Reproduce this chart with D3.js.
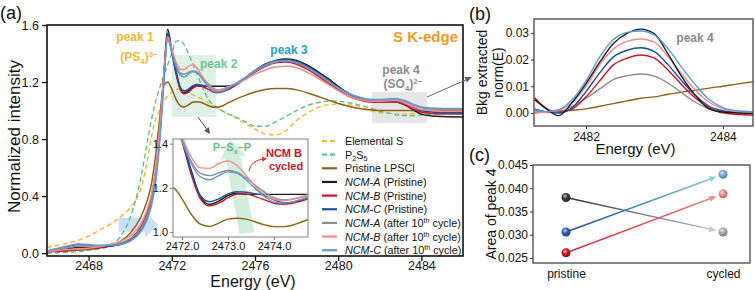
<!DOCTYPE html>
<html>
<head>
<meta charset="utf-8">
<script src="https://cdn.jsdelivr.net/npm/d3@7"></script>
<style>
  body { margin: 0; background: #fff; }
  svg { font-family: "Liberation Sans", Arial, sans-serif; }
</style>
</head>
<body>
<div id="chart"></div>
<script>
// ---------- data: panel (a), normalized S K-edge XANES ----------
const energy = [2466, 2467, 2467.5, 2468, 2468.5, 2469, 2469.5, 2470,
  2470.5, 2470.8, 2471.0, 2471.2, 2471.4, 2471.6, 2471.8,
  2472.0, 2472.2, 2472.4, 2472.6, 2472.8, 2473.0, 2473.2, 2473.4, 2473.6, 2473.8, 2474.0, 2474.2, 2474.4, 2474.6,
  2475, 2475.5, 2476, 2476.5, 2477, 2477.5, 2478, 2478.5, 2479, 2479.5, 2480, 2480.5, 2481, 2481.5, 2482, 2482.5,
  2482.8, 2483.2, 2483.6, 2484, 2484.5, 2485, 2486];

const elementalS = [0.04, 0.07, 0.09, 0.12, 0.16, 0.20, 0.25, 0.32,
  0.45, 0.63, 0.80, 0.93, 1.00, 1.06, 1.10,
  1.13, 1.15, 1.15, 1.14, 1.125, 1.11, 1.10, 1.085, 1.07, 1.05, 1.03, 1.015, 1.0, 0.985,
  0.955, 0.91, 0.87, 0.835, 0.83, 0.86, 0.93, 0.98, 1.02, 1.04, 1.045, 1.04, 1.03, 1.0, 0.985, 0.98,
  0.975, 0.975, 0.98, 0.985, 0.99, 0.99, 0.99];

const p2s5 = [0.0, 0.005, 0.01, 0.02, 0.03, 0.05, 0.11, 0.25,
  0.52, 0.76, 0.92, 1.05, 1.15, 1.24, 1.32,
  1.40, 1.485, 1.49, 1.46, 1.40, 1.33, 1.26, 1.19, 1.12, 1.07, 1.04, 1.02, 1.0, 0.985,
  0.96, 0.925, 0.89, 0.89, 0.92, 0.96, 1.0, 1.035, 1.055, 1.065, 1.065, 1.055, 1.04, 1.02, 0.995, 0.98,
  0.97, 0.965, 0.965, 0.97, 0.975, 0.98, 0.98];

const pristineLPSCl = [0.01, 0.015, 0.02, 0.025, 0.035, 0.05, 0.08, 0.14,
  0.25, 0.36, 0.47, 0.66, 0.92, 1.17, 1.20,
  1.15, 1.08, 1.035, 1.025, 1.04, 1.058, 1.062, 1.058, 1.045, 1.032, 1.024, 1.024, 1.03, 1.045,
  1.075, 1.105, 1.13, 1.148, 1.155, 1.155, 1.145, 1.125, 1.10, 1.075, 1.05, 1.03, 1.015, 1.005, 1.0, 1.0,
  1.0, 1.0, 1.0, 1.0, 1.0, 1.0, 1.0];

const ncmAPristine = [0.01, 0.03, 0.04, 0.04, 0.04, 0.05, 0.06, 0.09,
  0.17, 0.27, 0.36, 0.52, 0.80, 1.20, 1.57,
  1.42, 1.28, 1.16, 1.125, 1.14, 1.165, 1.175, 1.17, 1.17, 1.17, 1.17, 1.17, 1.17, 1.17,
  1.18, 1.225, 1.28, 1.325, 1.352, 1.362, 1.352, 1.32, 1.275, 1.225, 1.17, 1.12, 1.085, 1.065, 1.06, 1.062,
  1.06, 1.04, 1.005, 0.975, 0.962, 0.958, 0.955];

const ncmBPristine = [0.01, 0.02, 0.03, 0.035, 0.04, 0.05, 0.065, 0.10,
  0.18, 0.28, 0.38, 0.55, 0.83, 1.22, 1.53,
  1.41, 1.26, 1.15, 1.118, 1.13, 1.155, 1.172, 1.172, 1.16, 1.145, 1.13, 1.125, 1.13, 1.14,
  1.17, 1.22, 1.27, 1.31, 1.335, 1.34, 1.325, 1.29, 1.245, 1.195, 1.145, 1.10, 1.075, 1.06, 1.058, 1.062,
  1.06, 1.04, 1.01, 0.99, 0.98, 0.975, 0.975];

const ncmCPristine = [0.015, 0.045, 0.06, 0.055, 0.05, 0.05, 0.06, 0.09,
  0.16, 0.25, 0.34, 0.50, 0.78, 1.18, 1.54,
  1.42, 1.27, 1.165, 1.137, 1.15, 1.172, 1.182, 1.18, 1.172, 1.165, 1.145, 1.132, 1.135, 1.145,
  1.175, 1.225, 1.28, 1.325, 1.35, 1.358, 1.345, 1.31, 1.265, 1.215, 1.16, 1.115, 1.085, 1.068, 1.065, 1.068,
  1.068, 1.055, 1.025, 1.0, 0.99, 0.985, 0.985];

const ncmACycled = [0.015, 0.04, 0.05, 0.05, 0.05, 0.055, 0.07, 0.10,
  0.17, 0.26, 0.35, 0.51, 0.79, 1.18, 1.51,
  1.42, 1.32, 1.265, 1.255, 1.268, 1.278, 1.27, 1.245, 1.21, 1.18, 1.155, 1.145, 1.148, 1.158,
  1.185, 1.23, 1.28, 1.32, 1.345, 1.35, 1.335, 1.30, 1.255, 1.205, 1.155, 1.115, 1.09, 1.075, 1.072, 1.076,
  1.076, 1.065, 1.04, 1.02, 1.01, 1.01, 1.01];

const ncmBCycled = [0.01, 0.025, 0.03, 0.035, 0.045, 0.06, 0.08, 0.12,
  0.20, 0.30, 0.40, 0.57, 0.85, 1.22, 1.52,
  1.43, 1.34, 1.29, 1.288, 1.31, 1.321, 1.30, 1.255, 1.205, 1.17, 1.148, 1.142, 1.148, 1.16,
  1.18, 1.215, 1.255, 1.285, 1.305, 1.31, 1.30, 1.27, 1.23, 1.185, 1.14, 1.10, 1.078, 1.065, 1.065, 1.07,
  1.07, 1.055, 1.03, 1.005, 1.0, 0.995, 0.995];

const ncmCCycled = [0.015, 0.05, 0.065, 0.06, 0.055, 0.055, 0.06, 0.085,
  0.15, 0.23, 0.32, 0.47, 0.75, 1.15, 1.50,
  1.41, 1.31, 1.25, 1.236, 1.255, 1.272, 1.265, 1.235, 1.195, 1.16, 1.135, 1.13, 1.135, 1.148,
  1.18, 1.225, 1.275, 1.315, 1.34, 1.348, 1.335, 1.305, 1.26, 1.21, 1.16, 1.12, 1.095, 1.08, 1.078, 1.082,
  1.082, 1.07, 1.045, 1.025, 1.018, 1.015, 1.015];

const xTicksA = [2468, 2472, 2476, 2480, 2484];
const yTicksA = [0.0, 0.4, 0.8, 1.2, 1.6];
const xTicksInset = [2472.0, 2473.0, 2474.0];
const yTicksInset = [1.0, 1.2, 1.4];

// ---------- data: panel (b), background-extracted peak 4 ----------
const energyB = [2481.25, 2481.4, 2481.6, 2481.8, 2482.0, 2482.2, 2482.4, 2482.6, 2482.8,
  2483.0, 2483.2, 2483.4, 2483.6, 2483.8, 2484.0, 2484.2, 2484.44];
const bkgLPSCl = [0.0, 0.0005, 0.0008, 0.001, 0.0015, 0.0025, 0.0035, 0.0045, 0.0055,
  0.006, 0.007, 0.0078, 0.0085, 0.0093, 0.010, 0.0108, 0.0117];
const bkgNcmAPristine = [0.005, 0.002, -0.001, 0.004, 0.011, 0.019, 0.026, 0.0298, 0.0314,
  0.0296, 0.022, 0.0135, 0.0065, 0.0015, 0.0003, 0.0, -0.0002];
const bkgNcmBPristine = [0.0057, 0.002, 0.0003, 0.0015, 0.006, 0.012, 0.018, 0.0205, 0.0217,
  0.0205, 0.016, 0.0105, 0.0055, 0.002, 0.0, -0.0005, -0.0008];
const bkgNcmCPristine = [0.0015, 0.0005, 0.0, 0.002, 0.008, 0.015, 0.021, 0.0235, 0.0244,
  0.023, 0.018, 0.012, 0.0065, 0.0025, 0.0008, 0.0002, 0.0];
const bkgNcmACycled = [0.0008, 0.0003, 0.0005, 0.0025, 0.0055, 0.009, 0.0125, 0.014, 0.0146,
  0.0138, 0.0112, 0.0075, 0.004, 0.0015, 0.0005, 0.0, 0.0];
const bkgNcmBCycled = [0.0, 0.0003, 0.001, 0.004, 0.010, 0.018, 0.024, 0.0268, 0.0277,
  0.0265, 0.021, 0.0145, 0.0085, 0.004, 0.0015, 0.0005, 0.0002];
const bkgNcmCCycled = [0.0012, 0.0005, 0.0012, 0.005, 0.012, 0.021, 0.0275, 0.0302, 0.0307,
  0.0292, 0.024, 0.017, 0.0105, 0.005, 0.002, 0.0008, 0.0004];
const xTicksB = [2482, 2484];
const yTicksB = [0.00, 0.01, 0.02, 0.03];

// ---------- data: panel (c), area of peak 4 ----------
const states = ["pristine", "cycled"];
const samples = ["NCM-A", "NCM-B", "NCM-C"];
const areaPristine = [0.0380, 0.0261, 0.0306];
const areaCycled = [0.0306, 0.0388, 0.0430];
const yTicksC = [0.025, 0.030, 0.035, 0.040, 0.045];

// ---------- styles ----------
const col = {
  s: "#f6b634", p2s5: "#5fc18d", lpscl: "#8a6418",
  aP: "#1c1c1c", bP: "#cc1427", cP: "#1d4f9e",
  aC: "#8e8e8e", bC: "#f28b8d", cC: "#5d9ad4"
};

const mainSeries = [
  { values: elementalS, color: col.s, dash: "5,3", label: ["Elemental S"] },
  { values: p2s5, color: col.p2s5, dash: "5,3", label: ["P", { t: "2", sub: 1 }, "S", { t: "5", sub: 1 }] },
  { values: pristineLPSCl, color: col.lpscl, label: ["Pristine LPSCl"] },
  { values: ncmAPristine, color: col.aP, label: [{ t: "NCM-A", it: 1 }, " (Pristine)"] },
  { values: ncmBPristine, color: col.bP, label: [{ t: "NCM-B", it: 1 }, " (Pristine)"] },
  { values: ncmCPristine, color: col.cP, label: [{ t: "NCM-C", it: 1 }, " (Pristine)"] },
  { values: ncmACycled, color: col.aC, label: [{ t: "NCM-A", it: 1 }, " (after 10", { t: "th", sup: 1 }, " cycle)"] },
  { values: ncmBCycled, color: col.bC, label: [{ t: "NCM-B", it: 1 }, " (after 10", { t: "th", sup: 1 }, " cycle)"] },
  { values: ncmCCycled, color: col.cC, label: [{ t: "NCM-C", it: 1 }, " (after 10", { t: "th", sup: 1 }, " cycle)"] }
];

const bSeries = [
  { values: bkgLPSCl, color: col.lpscl },
  { values: bkgNcmACycled, color: col.aC },
  { values: bkgNcmBPristine, color: col.bP },
  { values: bkgNcmCPristine, color: col.cP },
  { values: bkgNcmBCycled, color: col.bC },
  { values: bkgNcmAPristine, color: col.aP },
  { values: bkgNcmCCycled, color: col.cC }
];

// helper: text with italic / sub / sup parts
function rich(g, x, y, parts, attrs) {
  const t = g.append("text").attr("x", x).attr("y", y);
  Object.entries(attrs || {}).forEach(([k, v]) => t.attr(k, v));
  let shift = 0;
  parts.forEach(p => {
    if (typeof p === "string") p = { t: p };
    const want = p.sub ? 2.5 : p.sup ? -4 : 0;
    const ts = t.append("tspan").attr("dy", want - shift).text(p.t);
    shift = want;
    if (p.sub || p.sup) ts.attr("font-size", "0.66em");
    if (p.it) ts.attr("font-style", "italic");
  });
  return t;
}

function arrowHead(g, x1, y1, x2, y2, len, half, color) {
  const ang = Math.atan2(y2 - y1, x2 - x1);
  const bx = x2 - len * Math.cos(ang), by = y2 - len * Math.sin(ang);
  const nx = -Math.sin(ang) * half, ny = Math.cos(ang) * half;
  g.append("path")
    .attr("d", `M${x2},${y2}L${bx + nx},${by + ny}L${bx - nx},${by - ny}Z`)
    .attr("fill", color);
}

const svg = d3.select("#chart").append("svg").attr("width", 755).attr("height", 290);
const defs = svg.append("defs");

// ================= panel (a) =================
const a = { left: 47, top: 25, width: 416, height: 231 };
const xA = d3.scaleLinear().domain([2466, 2486]).range([0, a.width]);
const yA = d3.scaleLinear().domain([-0.02, 1.6]).range([a.height, 0]);
const gA = svg.append("g").attr("transform", `translate(${a.left},${a.top})`);

defs.append("clipPath").attr("id", "clipA")
  .append("rect").attr("width", a.width).attr("height", a.height);

// shaded highlight boxes
gA.append("rect")
  .attr("x", xA(2472.0)).attr("y", yA(1.39))
  .attr("width", xA(2474.12) - xA(2472.0)).attr("height", yA(0.955) - yA(1.39))
  .attr("fill", "#d3ecdb").attr("opacity", 0.75);
gA.append("rect")
  .attr("x", xA(2481.62)).attr("y", yA(1.13))
  .attr("width", xA(2484.27) - xA(2481.62)).attr("height", yA(0.912) - yA(1.13))
  .attr("fill", "#dcdcdc").attr("opacity", 0.7);

// blue block arrow
{
  const x0 = xA(2469.45), xm = xA(2470.7), x1 = xA(2471.35), yc = yA(0.2);
  gA.append("path")
    .attr("d", `M${x0},${yc - 7}L${xm},${yc - 7}L${xm},${yc - 13}L${x1},${yc}L${xm},${yc + 13}L${xm},${yc + 7}L${x0},${yc + 7}Z`)
    .attr("fill", "#c8dbf2").attr("opacity", 0.9);
}

const lineA = d3.line()
  .x((d, i) => xA(energy[i]))
  .y(d => yA(d))
  .curve(d3.curveMonotoneX);

const curvesA = gA.append("g").attr("clip-path", "url(#clipA)");
mainSeries.forEach(s => {
  curvesA.append("path")
    .datum(s.values)
    .attr("fill", "none")
    .attr("stroke", s.color)
    .attr("stroke-width", s.dash ? 1.4 : 1.5)
    .attr("stroke-dasharray", s.dash || null)
    .attr("d", lineA);
});

// axes
const axXA = gA.append("g").attr("transform", `translate(0,${a.height})`)
  .call(d3.axisBottom(xA).tickValues(xTicksA).tickFormat(d3.format("d")).tickSize(5).tickPadding(0));
const axYA = gA.append("g")
  .call(d3.axisLeft(yA).tickValues(yTicksA).tickFormat(d3.format(".1f")).tickSize(5).tickPadding(3));
[axXA, axYA].forEach(ax => {
  ax.selectAll("text").attr("font-size", 12.5).attr("fill", "#111").attr("font-family", "Liberation Sans, Arial, sans-serif");
  ax.selectAll("line").attr("stroke", "#111").attr("stroke-width", 1.3);
  ax.select(".domain").remove();
});
gA.append("rect").attr("width", a.width).attr("height", a.height)
  .attr("fill", "none").attr("stroke", "#111").attr("stroke-width", 1.6);

svg.append("text").attr("x", a.left + a.width / 2 - 2).attr("y", 287.2)
  .attr("text-anchor", "middle").attr("font-size", 16).attr("fill", "#111").text("Energy (eV)");
svg.append("text").attr("transform", `translate(20,${a.top + a.height / 2 - 4}) rotate(-90)`)
  .attr("text-anchor", "middle").attr("font-size", 17).attr("fill", "#111").text("Normalized intensity");
svg.append("text").attr("x", 0).attr("y", 19).attr("font-size", 18).attr("fill", "#111").text("(a)");

// annotations
rich(svg, 135, 41, ["peak 1"], { "font-size": 12, "font-weight": "bold", fill: "#f6b634", "text-anchor": "middle" });
rich(svg, 139, 61, ["(PS", { t: "4", sub: 1 }, ")", { t: "3−", sup: 1 }], { "font-size": 12, "font-weight": "bold", fill: "#f6b634", "text-anchor": "middle" });
rich(svg, 200, 68, ["peak 2"], { "font-size": 12, "font-weight": "bold", fill: "#6cc594" });
rich(svg, 289, 54, ["peak 3"], { "font-size": 12, "font-weight": "bold", fill: "#2a9cc6", "text-anchor": "middle" });
rich(svg, 458, 42, ["S K-edge"], { "font-size": 15, "font-weight": "bold", fill: "#f39a1e", "text-anchor": "end" });
rich(svg, 401, 74, ["peak 4"], { "font-size": 12, "font-weight": "bold", fill: "#8a8a8a", "text-anchor": "middle" });
rich(svg, 403, 88, ["(SO", { t: "4", sub: 1 }, ")", { t: "2−", sup: 1 }], { "font-size": 12, "font-weight": "bold", fill: "#8a8a8a", "text-anchor": "middle" });

// gray pointer arrows
svg.append("line").attr("x1", 198).attr("y1", 117).attr("x2", 208).attr("y2", 131)
  .attr("stroke", "#555").attr("stroke-width", 1);
arrowHead(svg, 198, 117, 210, 134, 6, 3, "#555");
svg.append("line").attr("x1", 427).attr("y1", 97).attr("x2", 468).attr("y2", 79)
  .attr("stroke", "#666").attr("stroke-width", 1);
arrowHead(svg, 427, 97, 472, 77, 7, 3, "#666");

// legend
const legend = svg.append("g").attr("transform", "translate(322,141)");
mainSeries.forEach((s, i) => {
  const gy = i * 13.65;
  legend.append("line").attr("x1", 0).attr("x2", 15).attr("y1", gy).attr("y2", gy)
    .attr("stroke", s.color).attr("stroke-width", 2.2)
    .attr("stroke-dasharray", s.dash ? "5,3" : null);
  rich(legend, 23, gy + 4, s.label, { "font-size": 10.8, fill: "#111" });
});

// ---------- inset ----------
const ins = { left: 173, top: 139, width: 135, height: 98 };
const xI = d3.scaleLinear().domain([2471.804, 2474.74]).range([0, ins.width]);
const yI = d3.scaleLinear().domain([0.977, 1.421]).range([ins.height, 0]);
const gI = svg.append("g").attr("transform", `translate(${ins.left},${ins.top})`);
defs.append("clipPath").attr("id", "clipI")
  .append("rect").attr("width", ins.width).attr("height", ins.height);
gI.append("rect").attr("width", ins.width).attr("height", ins.height).attr("fill", "#fff");

// green block arrow (P–Sx–P)
{
  const bx = xI(2473.41), by = yI(0.995), tx = xI(2473.04), ty = yI(1.418);
  const ang = Math.atan2(ty - by, tx - bx);
  const ux = Math.cos(ang), uy = Math.sin(ang), nx = -uy, ny = ux;
  const headLen = 18, bw = 7.5, hw = 13;
  const hx = tx - ux * headLen, hy = ty - uy * headLen;
  const pts = [
    [bx + nx * bw, by + ny * bw], [hx + nx * bw, hy + ny * bw], [hx + nx * hw, hy + ny * hw],
    [tx, ty], [hx - nx * hw, hy - ny * hw], [hx - nx * bw, hy - ny * bw], [bx - nx * bw, by - ny * bw]
  ];
  gI.append("path").attr("d", "M" + pts.map(p => p.join(",")).join("L") + "Z")
    .attr("fill", "#c9ebd4").attr("opacity", 0.85).attr("clip-path", "url(#clipI)");
}

const lineI = d3.line()
  .x((d, i) => xI(energy[i]))
  .y(d => yI(d))
  .curve(d3.curveMonotoneX);
const curvesI = gI.append("g").attr("clip-path", "url(#clipI)");
mainSeries.filter(s => !s.dash).forEach(s => {
  curvesI.append("path").datum(s.values)
    .attr("fill", "none").attr("stroke", s.color).attr("stroke-width", 1.4).attr("d", lineI);
});
const axXI = gI.append("g").attr("transform", `translate(0,${ins.height})`)
  .call(d3.axisBottom(xI).tickValues(xTicksInset).tickFormat(d3.format(".1f")).tickSize(3).tickPadding(2));
const axYI = gI.append("g")
  .call(d3.axisLeft(yI).tickValues(yTicksInset).tickFormat(d3.format(".1f")).tickSize(3).tickPadding(2));
[axXI, axYI].forEach(ax => {
  ax.selectAll("text").attr("font-size", 11).attr("fill", "#111").attr("font-family", "Liberation Sans, Arial, sans-serif");
  ax.selectAll("line").attr("stroke", "#777");
  ax.select(".domain").remove();
});
gI.append("rect").attr("width", ins.width).attr("height", ins.height)
  .attr("fill", "none").attr("stroke", "#8a8a8a").attr("stroke-width", 1.1);

rich(svg, 232, 151, ["P–S", { t: "x", sub: 1 }, "–P"], { "font-size": 11, "font-weight": "bold", fill: "#5dbf88", "text-anchor": "middle" });
rich(svg, 284, 157, ["NCM B"], { "font-size": 11, "font-weight": "bold", fill: "#d0102a", "text-anchor": "middle" });
rich(svg, 286, 170, ["cycled"], { "font-size": 11, "font-weight": "bold", fill: "#d0102a", "text-anchor": "middle" });
svg.append("path").attr("d", "M249,171 Q251,160 264,159")
  .attr("fill", "none").attr("stroke", "#e0303a").attr("stroke-width", 1);
arrowHead(svg, 258, 160, 267, 158.5, 5, 2.5, "#e0303a");

// ================= panel (b) =================
const b = { left: 534, top: 19, width: 219, height: 107 };
const xB = d3.scaleLinear().domain([2481.24, 2484.44]).range([0, b.width]);
const yB = d3.scaleLinear().domain([-0.0049, 0.0352]).range([b.height, 0]);
const gB = svg.append("g").attr("transform", `translate(${b.left},${b.top})`);
defs.append("clipPath").attr("id", "clipB")
  .append("rect").attr("width", b.width).attr("height", b.height);
const lineB = d3.line()
  .x((d, i) => xB(energyB[i]))
  .y(d => yB(d))
  .curve(d3.curveMonotoneX);
const curvesB = gB.append("g").attr("clip-path", "url(#clipB)");
bSeries.forEach(s => {
  curvesB.append("path").datum(s.values)
    .attr("fill", "none").attr("stroke", s.color).attr("stroke-width", 1.4).attr("d", lineB);
});
const axXB = gB.append("g").attr("transform", `translate(0,${b.height})`)
  .call(d3.axisBottom(xB).tickValues(xTicksB).tickFormat(d3.format("d")).tickSize(3).tickPadding(3));
const axYB = gB.append("g")
  .call(d3.axisLeft(yB).tickValues(yTicksB).tickFormat(d3.format(".2f")).tickSize(3).tickPadding(2));
[axXB, axYB].forEach(ax => {
  ax.selectAll("text").attr("font-size", 12).attr("fill", "#111").attr("font-family", "Liberation Sans, Arial, sans-serif");
  ax.selectAll("line").attr("stroke", "#333");
  ax.select(".domain").remove();
});
gB.append("rect").attr("width", b.width).attr("height", b.height)
  .attr("fill", "none").attr("stroke", "#444").attr("stroke-width", 1.3);
rich(svg, 695, 42, ["peak 4"], { "font-size": 12, "font-weight": "bold", fill: "#8a8a8a", "text-anchor": "middle" });

svg.append("text").attr("x", b.left + b.width / 2 - 8).attr("y", 154)
  .attr("text-anchor", "middle").attr("font-size", 15).attr("fill", "#111").text("Energy (eV)");
svg.append("text").attr("transform", `translate(487,${b.top + b.height / 2}) rotate(-90)`)
  .attr("text-anchor", "middle").attr("font-size", 14).attr("fill", "#111").text("Bkg extracted");
svg.append("text").attr("transform", `translate(503,${b.top + b.height / 2}) rotate(-90)`)
  .attr("text-anchor", "middle").attr("font-size", 14).attr("fill", "#111").text("norm(E)");
svg.append("text").attr("x", 469).attr("y", 20).attr("font-size", 18).attr("fill", "#111").text("(b)");

// ================= panel (c) =================
const c = { left: 533, top: 165, width: 217, height: 98 };
const xC = d3.scalePoint().domain(states).range([33, 190]);
const yC = d3.scaleLinear().domain([0.02392, 0.045]).range([c.height, 0]);
const gC = svg.append("g").attr("transform", `translate(${c.left},${c.top})`);

const startCol = ["#333333", "#cc1427", "#1d4f9e"];
const endCol = ["#c6c6d6", "#f4888b", "#8cd3c7"];
const pristineDot = ["#3a3a3a", "#c8142a", "#2b60aa"];
const cycledDot = ["#a9a9b2", "#f08c90", "#7ba8d8"];

samples.forEach((n, i) => {
  const x1 = xC("pristine"), y1 = yC(areaPristine[i]);
  const x2 = xC("cycled"), y2 = yC(areaCycled[i]);
  const gid = "conn" + i;
  const lg = defs.append("linearGradient").attr("id", gid).attr("gradientUnits", "userSpaceOnUse")
    .attr("x1", x1).attr("y1", y1).attr("x2", x2).attr("y2", y2);
  lg.append("stop").attr("offset", "0%").attr("stop-color", startCol[i]);
  lg.append("stop").attr("offset", "100%").attr("stop-color", endCol[i]);
  const ang = Math.atan2(y2 - y1, x2 - x1);
  const tx = x2 - 7 * Math.cos(ang), ty = y2 - 7 * Math.sin(ang);
  gC.append("line").attr("x1", x1).attr("y1", y1)
    .attr("x2", tx - 5 * Math.cos(ang)).attr("y2", ty - 5 * Math.sin(ang))
    .attr("stroke", `url(#${gid})`).attr("stroke-width", 1.5);
  arrowHead(gC, x1, y1, tx, ty, 7, 3, endCol[i]);
});

function sphere(id, color) {
  const g = defs.append("radialGradient").attr("id", id)
    .attr("cx", "40%").attr("cy", "35%").attr("r", "65%");
  g.append("stop").attr("offset", "0%").attr("stop-color", d3.interpolateRgb(color, "#fff")(0.75));
  g.append("stop").attr("offset", "45%").attr("stop-color", color);
  g.append("stop").attr("offset", "100%").attr("stop-color", d3.color(color).darker(0.9));
  return `url(#${id})`;
}
samples.forEach((n, i) => {
  gC.append("circle").attr("cx", xC("pristine")).attr("cy", yC(areaPristine[i])).attr("r", 4.5)
    .attr("fill", sphere("sp" + i, pristineDot[i]));
  gC.append("circle").attr("cx", xC("cycled")).attr("cy", yC(areaCycled[i])).attr("r", 4.5)
    .attr("fill", sphere("sc" + i, cycledDot[i]));
});

const axXC = gC.append("g").attr("transform", `translate(0,${c.height})`)
  .call(d3.axisBottom(xC).tickSize(0).tickPadding(6));
const axYC = gC.append("g")
  .call(d3.axisLeft(yC).tickValues(yTicksC).tickFormat(d3.format(".3f")).tickSize(3).tickPadding(2));
[axXC, axYC].forEach(ax => {
  ax.selectAll("text").attr("font-size", 12).attr("fill", "#111").attr("font-family", "Liberation Sans, Arial, sans-serif");
  ax.selectAll("line").attr("stroke", "#333");
  ax.select(".domain").remove();
});
gC.append("rect").attr("width", c.width).attr("height", c.height)
  .attr("fill", "none").attr("stroke", "#444").attr("stroke-width", 1.3);

svg.append("text").attr("transform", `translate(496,${c.top + c.height / 2}) rotate(-90)`)
  .attr("text-anchor", "middle").attr("font-size", 14).attr("fill", "#111").text("Area of peak 4");
svg.append("text").attr("x", 469).attr("y", 161).attr("font-size", 18).attr("fill", "#111").text("(c)");
</script>
</body>
</html>
